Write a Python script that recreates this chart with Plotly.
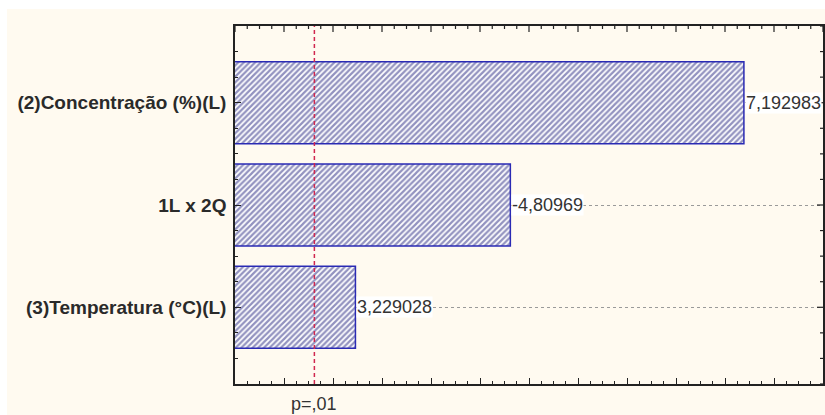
import numpy as np
import plotly.graph_objects as go

factors = ["(2)Concentração (%)(L)", "1L x 2Q", "(3)Temperatura (°C)(L)"]
effects = [7.192983, -4.80969, 3.229028]
value_labels = ["7,192983", "-4,80969", "3,229028"]
p_value_line = 2.81
p_label = "p=,01"

W, H = 825, 415
L, R, T, B = 235, 2, 26, 31
X_RANGE = [2, 8]
Y_RANGE = [2.75, -0.75]
X_MAJOR, X_MINOR = 0.5, 0.125
Y_MINOR = 0.25

idx = list(range(len(factors)))
abs_eff = [abs(v) for v in effects]

pw = W - L - R
ph = H - T - B
plot_bottom_px = H - B
tick_color = "#222222"

fig = go.Figure()
fig.add_trace(go.Bar(
    x=abs_eff, y=idx, orientation="h", width=0.8,
    marker=dict(color="white",
                line=dict(color="#2a2ab4", width=1.5),
                pattern=dict(shape="/", fgcolor="#25257f", bgcolor="white",
                             size=4, solidity=0.55)),
    hoverinfo="skip",
))

# mirrored tick marks on the top and right edges, drawn as a line trace in data units
y_per_px = (Y_RANGE[0] - Y_RANGE[1]) / ph
x_per_px = (X_RANGE[1] - X_RANGE[0]) / pw
tx, ty = [], []
for xv in np.arange(X_RANGE[0], X_RANGE[1] + 1e-9, X_MINOR):
    major = abs(xv / X_MAJOR - round(xv / X_MAJOR)) < 1e-6
    ln = 6 if major else 3
    tx += [xv, xv, None]
    ty += [Y_RANGE[1], Y_RANGE[1] + ln * y_per_px, None]
for yv in np.arange(Y_RANGE[1], Y_RANGE[0] + 1e-9, Y_MINOR):
    major = abs(yv - round(yv)) < 1e-6
    ln = 6 if major else 3
    tx += [X_RANGE[1], X_RANGE[1] - ln * x_per_px, None]
    ty += [yv, yv, None]
fig.add_trace(go.Scatter(x=tx, y=ty, mode="lines", cliponaxis=False,
                         line=dict(color=tick_color, width=1.2),
                         hoverinfo="skip", showlegend=False))


def px_to_paper_x(px):
    return (px - L) / pw


def px_to_paper_y(py):
    return (plot_bottom_px - py) / ph


# cream background panel (white strip on top and left of page)
fig.add_shape(type="rect", xref="paper", yref="paper",
              x0=px_to_paper_x(7), x1=px_to_paper_x(W + 10),
              y0=px_to_paper_y(H + 10), y1=px_to_paper_y(9),
              fillcolor="#fffaf0", line=dict(width=0), layer="below")

# vertical p-line
fig.add_shape(type="line", xref="x", yref="paper", x0=p_value_line, x1=p_value_line,
              y0=0, y1=1, line=dict(color="#d0264f", width=1.5, dash="4px,3px"))

for i, (v, t) in enumerate(zip(abs_eff, value_labels)):
    fig.add_annotation(x=v, y=i, xref="x", yref="y", text=t, showarrow=False,
                       xanchor="left", xshift=1, bgcolor="white",
                       font=dict(family="Liberation Sans, Arial", size=18, color="#333333"),
                       borderpad=0)

fig.add_annotation(x=p_value_line, y=0, xref="x", yref="paper", yshift=-20,
                   text=p_label, showarrow=False, xanchor="center", yanchor="middle",
                   font=dict(family="Liberation Sans, Arial", size=18, color="#333333"))

fig.update_layout(
    xaxis=dict(type="linear", range=X_RANGE, dtick=X_MAJOR, tick0=X_RANGE[0],
               showticklabels=False, ticks="inside", ticklen=6, tickcolor=tick_color,
               tickwidth=1.2,
               minor=dict(dtick=X_MINOR, ticks="inside", ticklen=3, tickcolor=tick_color),
               showgrid=False, zeroline=False, fixedrange=True,
               showline=True, linecolor="#222", linewidth=1.5, mirror=True),
    yaxis=dict(type="linear", range=Y_RANGE, tickmode="array", tickvals=idx,
               ticktext=factors, ticks="inside", ticklen=6, tickcolor=tick_color,
               tickwidth=1.2,
               minor=dict(dtick=Y_MINOR, tick0=0, ticks="inside", ticklen=3,
                          tickcolor=tick_color),
               zeroline=False, fixedrange=True,
               showline=True, linecolor="#222", linewidth=1.5, mirror=True,
               showgrid=True, gridcolor="#9a9a9a", griddash="dot", gridwidth=1,
               ticklabelstandoff=3,
               tickfont=dict(family="Liberation Sans, Arial", size=19,
                             color="#2a2a2a", weight="bold")),
    width=W, height=H, margin=dict(l=L, r=R, t=T, b=B, autoexpand=False),
    paper_bgcolor="white", plot_bgcolor="white", showlegend=False,
    bargap=0.2,
)

fig.write_html("out.html")
